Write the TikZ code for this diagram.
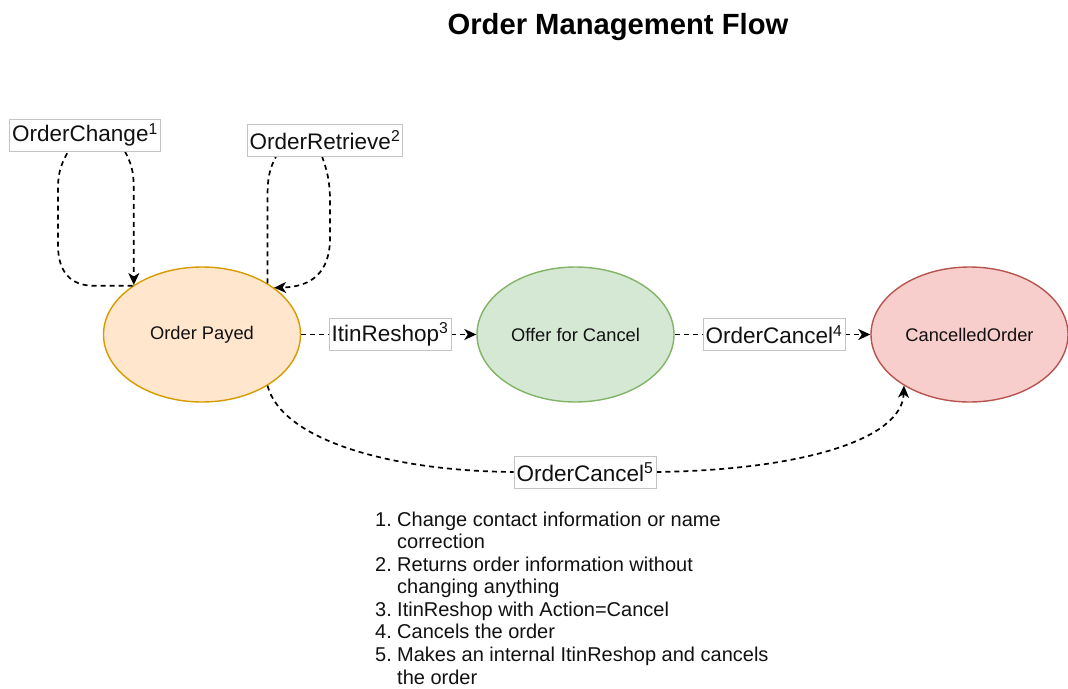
\documentclass[tikz,border=0pt]{standalone}
\usepackage{fontspec}
\setmainfont{Liberation Sans}
\usetikzlibrary{shapes.geometric,arrows.meta}
\definecolor{opfill}{HTML}{FFE6CC}
\definecolor{opdraw}{HTML}{D79B00}
\definecolor{ocfill}{HTML}{D5E8D4}
\definecolor{ocdraw}{HTML}{82B366}
\definecolor{cofill}{HTML}{F8CECC}
\definecolor{codraw}{HTML}{B85450}
\definecolor{boxgray}{HTML}{C4C4C4}
\definecolor{txt}{HTML}{111111}
\begin{document}
\begin{tikzpicture}[x=1pt,y=-1pt,
  state/.style={ellipse, draw, line width=1.4pt, minimum width=197pt, minimum height=135pt,
    inner sep=0pt, text=txt, font=\fontsize{18.3}{22}\selectfont},
  lab/.style={draw=boxgray, line width=0.8pt, fill=white, inner xsep=2.5pt, inner ysep=0pt,
    minimum height=32pt, text=txt, font=\fontsize{22.5}{27}\selectfont},
  flow/.style={dash pattern=on 5pt off 4pt, line width=1.7pt, draw=black},
  arr/.style={-{Stealth[length=12pt,width=11pt,inset=3.5pt]}}]
\useasboundingbox (0,0) rectangle (1068,688);

% title
\node[font=\bfseries\fontsize{29.2}{33}\selectfont, text=black] (title) at (618,27) {Order Management Flow};

% states
\node[state, fill=opfill, draw=opdraw] (op) at (202,334.5) {Order Payed};
\node[state, fill=ocfill, draw=ocdraw] (oc) at (575.5,334.5) {Offer for Cancel};
\node[state, fill=cofill, draw=codraw] (co) at (969.5,334.5) {CancelledOrder};

% labels
\node[lab] (lc) at (85,135) {OrderChange\textsuperscript{1}};
\node[lab] (lr) at (325,140) {OrderRetrieve\textsuperscript{2}};
\node[lab] (li) at (390,334.5) {ItinReshop\textsuperscript{3}};
\node[lab] (lc4) at (774,334.5) {OrderCancel\textsuperscript{4}};
\node[lab] (lc5) at (585,472) {OrderCancel\textsuperscript{5}};

% OrderChange loop
\draw[flow] (op.145) -- ++(-38,0) .. controls +(-24,0) and (58,272) .. (58,245)
  -- (58,188) .. controls (58,168) and (64,160) .. ([xshift=-17pt]lc.south);
\draw[flow, arr] ([xshift=40pt]lc.south) .. controls (130,162) and (op.144 |- 0,168) .. (op.144 |- 0,190) -- (op.144);

% OrderRetrieve loop
\draw[flow] (op.38) -- (op.38 |- 0,195) .. controls (op.38 |- 0,172) and (272,165) .. ([xshift=-49pt]lr.south);
\draw[flow, arr] ([xshift=-3pt]lr.south) .. controls (327,170) and (330,182) .. (330,200)
  -- (330,238) .. controls (330,272) and (312,287) .. (op.33);

% ItinReshop
\draw[flow] (op.east) -- (li.west);
\draw[flow, arr] (li.east) -- (oc.west);

% OrderCancel 4
\draw[flow] (oc.east) -- (lc4.west);
\draw[flow, arr] (lc4.east) -- (co.west);

% OrderCancel 5
\draw[flow] (op.-38) .. controls (282,440) and (390,471) .. (lc5.west);
\draw[flow, arr] (lc5.east) .. controls (800,470) and (902,440) .. (co.-142);

% redraw labels on top
\node[lab] at (lc) {OrderChange\textsuperscript{1}};
\node[lab] at (lr) {OrderRetrieve\textsuperscript{2}};
\node[lab] at (li) {ItinReshop\textsuperscript{3}};
\node[lab] at (lc4) {OrderCancel\textsuperscript{4}};
\node[lab] at (lc5) {OrderCancel\textsuperscript{5}};

% notes
\node[anchor=base west, align=left, inner sep=0pt, text=txt,
  font=\fontsize{20}{22.57}\selectfont] (notes) at (375,684) {%
\makebox[22pt][l]{1.}Change contact information or name\\
\hspace*{22pt}correction\\
\makebox[22pt][l]{2.}Returns order information without\\
\hspace*{22pt}changing anything\\
\makebox[22pt][l]{3.}ItinReshop with Action=Cancel\\
\makebox[22pt][l]{4.}Cancels the order\\
\makebox[22pt][l]{5.}Makes an internal ItinReshop and cancels\\
\hspace*{22pt}the order};
\end{tikzpicture}
\end{document}
